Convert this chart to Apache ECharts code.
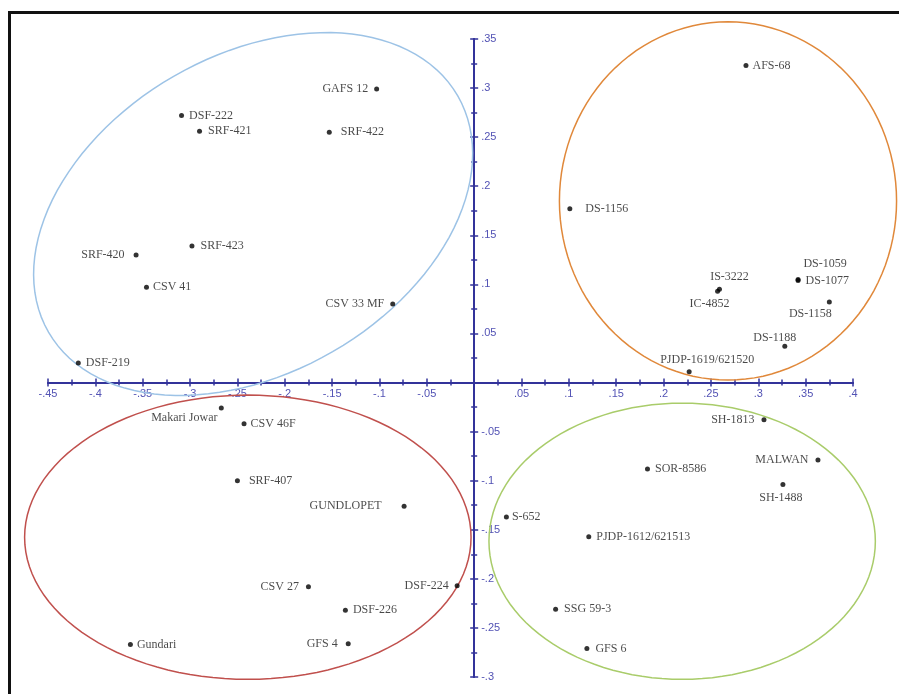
<!DOCTYPE html>
<html>
<head>
<meta charset="utf-8">
<style>
  html, body { margin: 0; padding: 0; background: #fff; }
  #chart { width: 899px; height: 694px; }
</style>
<script src="https://cdn.jsdelivr.net/npm/echarts@6/dist/echarts.min.js"></script>
</head>
<body>
<div id="chart"></div>
<script>
// genotype scores on the two axes
const names = [
  "GAFS 12", "DSF-222", "SRF-421", "SRF-422", "SRF-423", "SRF-420", "CSV 41", "CSV 33 MF", "DSF-219",
  "AFS-68", "DS-1156", "IS-3222", "IC-4852", "DS-1059", "DS-1077", "DS-1158", "DS-1188", "PJDP-1619/621520",
  "Makari Jowar", "CSV 46F", "SRF-407", "GUNDLOPET", "CSV 27", "DSF-224", "DSF-226", "GFS 4", "Gundari",
  "SH-1813", "MALWAN", "SH-1488", "SOR-8586", "S-652", "PJDP-1612/621513", "SSG 59-3", "GFS 6"
];
const dim1 = [
  -0.103, -0.309, -0.290, -0.153, -0.298, -0.357, -0.346, -0.086, -0.418,
  0.287, 0.101, 0.259, 0.257, 0.342, 0.342, 0.375, 0.328, 0.227,
  -0.267, -0.243, -0.250, -0.074, -0.175, -0.018, -0.136, -0.133, -0.363,
  0.306, 0.363, 0.326, 0.183, 0.034, 0.121, 0.086, 0.119
];
const dim2 = [
  0.299, 0.272, 0.256, 0.255, 0.139, 0.130, 0.097, 0.080, 0.020,
  0.323, 0.177, 0.095, 0.093, 0.105, 0.104, 0.082, 0.037, 0.011,
  -0.026, -0.042, -0.100, -0.126, -0.208, -0.207, -0.232, -0.266, -0.267,
  -0.038, -0.079, -0.104, -0.088, -0.137, -0.157, -0.231, -0.271
];

// axis range
const xMin = -0.45, xMax = 0.4, yMin = -0.3, yMax = 0.35, step = 0.05;

// where each name sits relative to its dot
const labelAt = {
  "GAFS 12": "l6", "DSF-222": "r5", "SRF-421": "r6", "SRF-422": "r9", "SRF-423": "r6",
  "SRF-420": "l9", "CSV 41": "r4", "CSV 33 MF": "l6", "DSF-219": "r5",
  "AFS-68": "r4", "DS-1156": "r13", "IS-3222": [10, -12], "IC-4852": [-8, 13],
  "DS-1059": [27, -16], "DS-1077": "r5", "DS-1158": [-19, 12], "DS-1188": [-10, -8],
  "PJDP-1619/621520": [18, -12],
  "Makari Jowar": [-37, 10], "CSV 46F": "r4", "SRF-407": "r9", "GUNDLOPET": "l20",
  "CSV 27": "l7", "DSF-224": "l6", "DSF-226": "r5", "GFS 4": "l8", "Gundari": "r4",
  "SH-1813": "l7", "MALWAN": "l7", "SH-1488": [-2, 13], "SOR-8586": "r5", "S-652": "r3",
  "PJDP-1612/621513": "r5", "SSG 59-3": "r6", "GFS 6": "r6"
};

// group outlines: centre, semi axes (axis units), tilt in degrees
const ellipses = [
  { c: [-0.2334, 0.1717], r: [0.2495, 0.162], rot: 30, color: "#9dc3e6" },
  { c: [0.268, 0.185], r: [0.178, 0.1825], rot: 0, color: "#e0883a" },
  { c: [-0.239, -0.1576], r: [0.2357, 0.1448], rot: 0, color: "#c0504d" },
  { c: [0.2196, -0.1617], r: [0.204, 0.1407], rot: 0, color: "#a9cc6a" }
];

const axisColor = "#33339a";
const tickLabelColor = "#5252b4";
const fmt = v => {
  if (Math.abs(v) < 1e-9) return "";
  return String(+v.toFixed(2)).replace(/^(-?)0\./, "$1.");
};

const points = names.map((n, i) => {
  const p = labelAt[n];
  let label;
  if (Array.isArray(p)) {
    label = { position: "inside", offset: p };
  } else {
    label = { position: p[0] === "l" ? "left" : "right", distance: +p.slice(1) };
  }
  return { name: n, value: [dim1[i], dim2[i]], label: label };
});

function axisPart(pos, withLabels, isX) {
  return {
    type: "value",
    min: isX ? xMin : yMin,
    max: isX ? xMax : yMax,
    interval: step,
    position: pos,
    axisLine: { onZero: false, lineStyle: { color: axisColor, width: 2 } },
    axisTick: { show: true, length: 4, lineStyle: { color: axisColor, width: 1.5 } },
    minorTick: { show: true, splitNumber: 2, length: 3, lineStyle: { color: axisColor, width: 1.5 } },
    axisLabel: {
      show: withLabels,
      formatter: fmt,
      color: tickLabelColor,
      fontSize: 11,
      fontFamily: "Liberation Sans",
      margin: isX ? 6 : 7
    },
    splitLine: { show: false }
  };
}

const chart = echarts.init(document.getElementById("chart"));

chart.setOption({
  animation: false,
  backgroundColor: "#fff",
  grid: { left: 48, right: 46, top: 39, bottom: 17, outerBoundsMode: "none" },
  xAxis: [axisPart("bottom", true, true), axisPart("top", false, true)],
  yAxis: [axisPart("left", false, false), axisPart("right", true, false)],
  graphic: [
    {
      type: "rect",
      silent: true,
      shape: { x: 9.5, y: 12.5, width: 1000, height: 1000 },
      style: { fill: null, stroke: "#111", lineWidth: 3 }
    }
  ],
  series: [
    {
      type: "custom",
      silent: true,
      clip: false,
      z: 1,
      data: ellipses.map(e => e.c),
      renderItem: (params, api) => {
        const e = ellipses[params.dataIndex];
        const c = api.coord(e.c);
        const s = api.size(e.r);
        const a = (e.rot * Math.PI) / 180;
        const pts = [];
        for (let k = 0; k <= 120; k++) {
          const t = (k / 120) * Math.PI * 2;
          const u = s[0] * Math.cos(t);
          const w = s[1] * Math.sin(t);
          pts.push([c[0] + u * Math.cos(a) - w * Math.sin(a), c[1] - (u * Math.sin(a) + w * Math.cos(a))]);
        }
        return {
          type: "polyline",
          shape: { points: pts },
          style: { fill: null, stroke: e.color, lineWidth: 1.5 }
        };
      }
    },
    {
      type: "scatter",
      z: 3,
      symbolSize: 5,
      itemStyle: { color: "#000" },
      label: {
        show: true,
        formatter: "{b}",
        color: "#1a1a1a",
        fontSize: 12,
        fontFamily: "Liberation Serif"
      },
      data: points
    }
  ]
});

// move the four axis parts onto the zero lines, so they cross at the origin
const zx = chart.convertToPixel({ xAxisIndex: 0 }, 0);
const zy = chart.convertToPixel({ yAxisIndex: 0 }, 0);
const gl = chart.convertToPixel({ xAxisIndex: 0 }, xMin);
const gr = chart.convertToPixel({ xAxisIndex: 0 }, xMax);
const gt = chart.convertToPixel({ yAxisIndex: 0 }, yMax);
const gb = chart.convertToPixel({ yAxisIndex: 0 }, yMin);

chart.setOption({
  xAxis: [{ offset: zy - gb }, { offset: gt - zy }],
  yAxis: [{ offset: gl - zx }, { offset: zx - gr }]
});
</script>
</body>
</html>
